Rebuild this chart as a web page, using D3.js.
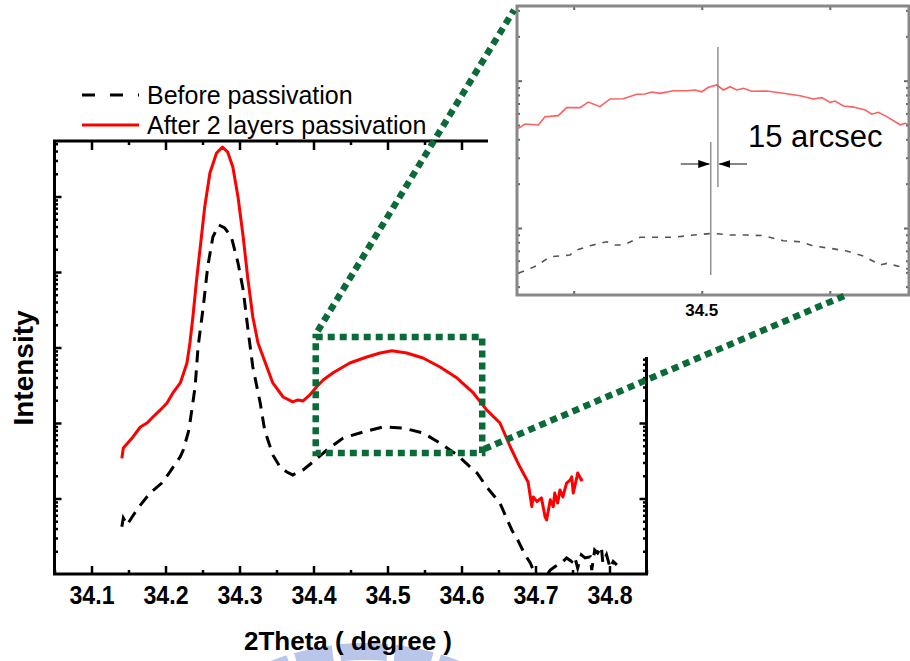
<!DOCTYPE html>
<html><head><meta charset="utf-8">
<script src="https://cdn.jsdelivr.net/npm/d3@7"></script>
<style>body{margin:0;background:#fff}svg{display:block;font-family:"Liberation Sans",Arial,Helvetica,sans-serif}</style>
</head><body>
<svg id="c" width="910" height="661"></svg>
<script>
// ---------- data ----------
const thetaAfter = [34.141,34.143,34.149,34.156,34.166,34.175,34.183,34.193,34.202,34.210,34.220,34.229,34.233,34.237,34.242,34.247,34.253,34.260,34.269,34.277,34.284,34.291,34.298,34.305,34.311,34.318,34.325,34.337,34.345,34.359,34.372,34.379,34.386,34.395,34.404,34.413,34.426,34.449,34.472,34.490,34.506,34.526,34.548,34.571,34.594,34.616,34.634,34.652,34.666,34.679,34.690,34.695,34.697,34.702,34.708,34.713,34.715,34.720,34.724,34.726,34.730,34.733,34.737,34.742,34.747,34.749,34.751,34.756,34.757,34.762,34.764];
const intensityAfter = [34,46.7,54.3,65.3,88.5,100,120,149,184,250,339,623,1148,2535,7834,21430,72600,204700,376700,452600,388300,246000,98500,29100,8590,2535,1148,552,339,221,190,202,196,235,300,371,459,623,748,846,907,846,726,552,394,250,149,100,48.1,26.1,16.5,7.8,10.5,9.1,10.2,5.7,5.2,9.6,7.8,11.8,8.7,13.0,10.5,16.0,17.6,19.4,11.8,19.4,21.8,17.6,18.1];

const thetaBefore = [34.141,34.143,34.148,34.154,34.163,34.179,34.195,34.206,34.220,34.224,34.231,34.233,34.240,34.244,34.251,34.257,34.264,34.272,34.280,34.289,34.298,34.305,34.311,34.318,34.328,34.334,34.345,34.355,34.364,34.372,34.386,34.399,34.418,34.440,34.467,34.494,34.521,34.548,34.571,34.594,34.612,34.621,34.634,34.652,34.663,34.668,34.676,34.686,34.693,34.697,34.702,34.706,34.713,34.720,34.726,34.735,34.742,34.749,34.753,34.757,34.762,34.767,34.774,34.776,34.780,34.784,34.789,34.791,34.796,34.801,34.805,34.810];
const intensityBefore = [4.23,5.52,4.46,5.52,7.48,11.8,16.0,22.6,35.8,43.9,76.7,100,300,1016,3437,11650,29100,41950,38250,29100,13160,5780,1870,552,184,80.8,37.7,26.1,22.4,20.5,23.9,30.4,43.9,63.3,76.0,88.5,85.9,73.7,54.3,37.7,26.1,21.8,14.2,8.7,4.93,3.83,2.82,1.79,1.40,1.13,0.94,0.78,0.89,1.13,1.25,1.40,1.63,1.46,1.69,1.20,1.79,1.63,1.69,1.13,2.08,1.90,2.30,1.40,1.79,1.20,1.46,1.32];

const xTicks = [34.1,34.2,34.3,34.4,34.5,34.6,34.7,34.8];
const xMinorTicks = [34.05,34.15,34.25,34.35,34.45,34.55,34.65,34.75,34.85];
const yMajorTicks = [10,100,1000,10000,100000];
const legendLabels = ["Before passivation","After 2 layers passivation"];
const xTitle = "2Theta ( degree )";
const yTitle = "Intensity";

// inset (zoomed view of the broad hump)
const insetThetaAfter = [34.3926,34.3965,34.4043,34.4082,34.4160,34.4209,34.4287,34.4336,34.4404,34.4463,34.4541,34.4619,34.4668,34.4707,34.4756,34.4834,34.4912,34.4961,34.5000,34.5039,34.5088,34.5127,34.5166,34.5205,34.5244,34.5293,34.5381,34.5478,34.5576,34.5654,34.5703,34.5752,34.5781,34.5830,34.5888,34.5957,34.5996,34.6035,34.6084,34.6162,34.6191,34.6216];
const insetIntensityAfter = [475,508,500,570,579,656,656,716,666,752,755,809,813,838,821,855,855,865,841,902,935,865,911,865,888,847,851,821,791,752,767,713,728,673,662,632,592,610,570,502,514,500];
const insetThetaBefore = [34.3926,34.3975,34.4033,34.4111,34.4228,34.4268,34.4346,34.4443,34.4492,34.4541,34.4639,34.4736,34.4834,34.4951,34.5068,34.5166,34.5264,34.5361,34.5478,34.5576,34.5654,34.5752,34.5849,34.5947,34.6045,34.6084,34.6162,34.6210];
const insetIntensityBefore = [49.3,51.9,55.5,63.8,65.6,70.9,75.9,80.7,76.7,76.7,86.5,86.5,86.5,89.6,92.0,89.6,89.6,88.8,82.0,80.7,75.5,72.8,69.8,64.6,56.1,57.5,54.6,52.5];
const insetTicks = [34.425,34.5,34.575];
const insetTickLabel = [34.5];
const insetYMajor = [100,1000];
const peakBefore = 34.5053, peakAfter = 34.5095;
const annotationText = "15 arcsec";
const zoomTheta = [34.403,34.628];
const zoomIntensity = [40,1380];
const connectorInsetTheta = 34.586;

// ---------- drawing ----------
const svg = d3.select("#c");
const FONT = '"Liberation Sans",Arial,Helvetica,sans-serif';
const L = 54.5, R = 646.5, T = 141, B = 574;
const x = d3.scaleLinear().domain([34.05,34.85]).range([L,R]);
const y = d3.scaleLog().domain([1, Math.pow(10,5.735)]).range([B,T]);

function logMinor(dom){
  const out=[];
  for(let d=1; d<=dom[1]; d*=10){
    for(let k=2;k<=9;k++){const v=k*d; if(v>=dom[0]&&v<=dom[1]) out.push(v);}
  }
  return out;
}
const yMinor = logMinor(y.domain());

const defs = svg.append("defs");
defs.append("clipPath").attr("id","plotClip").append("rect")
  .attr("x",L).attr("y",T).attr("width",R-L).attr("height",B-T);

// watermark (partial light blue logo at bottom)
const wm = svg.append("g").attr("transform","translate(365,900)");
const segs = [[-0.44,-0.31],[-0.28,-0.13],[-0.10,0.09],[0.12,0.27],[0.30,0.44]];
segs.forEach(s=>{
  wm.append("path").attr("d", d3.arc()({innerRadius:240,outerRadius:257,startAngle:s[0],endAngle:s[1]}))
    .attr("fill","#b9c6ea");
});

// curves
const lineMain = d3.line().x(d=>x(d[0])).y(d=>y(d[1]));
const gCurves = svg.append("g").attr("clip-path","url(#plotClip)");
gCurves.append("path").datum(d3.zip(thetaBefore,intensityBefore))
  .attr("d",lineMain).attr("fill","none").attr("stroke","#000").attr("stroke-width",3)
  .attr("stroke-dasharray","12,8");
gCurves.append("path").datum(d3.zip(thetaAfter,intensityAfter))
  .attr("d",lineMain).attr("fill","none").attr("stroke","#ff0000").attr("stroke-width",3)
  .attr("stroke-linejoin","round");

// axes ticks
function styleAxis(g){ g.select(".domain").remove(); g.selectAll("line").attr("stroke","#000").attr("stroke-width",2.5); }
svg.append("g").attr("transform",`translate(0,${B})`)
  .call(d3.axisBottom(x).tickValues(xMinorTicks).tickSize(-4).tickFormat("")).call(styleAxis);
const gx = svg.append("g").attr("transform",`translate(0,${B})`)
  .call(d3.axisBottom(x).tickValues(xTicks).tickSize(-8).tickPadding(12).tickFormat(d3.format(".1f"))).call(styleAxis);
gx.selectAll("text").attr("font-family",FONT).attr("font-size",26).attr("font-weight","bold").attr("fill","#000")
  .attr("textLength",45).attr("lengthAdjust","spacingAndGlyphs").attr("dy","0.71em");
svg.append("g").attr("transform",`translate(0,${T})`)
  .call(d3.axisTop(x).tickValues(xMinorTicks).tickSize(-4).tickFormat("")).call(styleAxis);
svg.append("g").attr("transform",`translate(0,${T})`)
  .call(d3.axisTop(x).tickValues(xTicks).tickSize(-9).tickFormat("")).call(styleAxis);
[[d3.axisLeft,L],[d3.axisRight,R]].forEach(([ax,pos])=>{
  svg.append("g").attr("transform",`translate(${pos},0)`)
    .call(ax(y).tickValues(yMinor).tickSize(-3.5).tickFormat("")).call(styleAxis);
  svg.append("g").attr("transform",`translate(${pos},0)`)
    .call(ax(y).tickValues(yMajorTicks).tickSize(-7).tickFormat("")).call(styleAxis);
});
// frame
svg.append("rect").attr("x",L).attr("y",T).attr("width",R-L).attr("height",B-T)
  .attr("fill","none").attr("stroke","#000").attr("stroke-width",3);

// titles
svg.append("text").attr("x",348).attr("y",650).attr("text-anchor","middle")
  .attr("font-family",FONT).attr("font-size",26).attr("font-weight","bold").attr("fill","#000")
  .style("white-space","pre").text(xTitle);
svg.append("text").attr("transform","translate(33,368) rotate(-90)").attr("text-anchor","middle")
  .attr("font-family",FONT).attr("font-size",28).attr("font-weight","bold").attr("fill","#000").text(yTitle);

// legend
const lg = svg.append("g");
lg.append("line").attr("x1",82).attr("x2",139).attr("y1",95).attr("y2",95)
  .attr("stroke","#000").attr("stroke-width",3.2).attr("stroke-dasharray","13,15");
lg.append("line").attr("x1",82).attr("x2",139).attr("y1",125).attr("y2",125)
  .attr("stroke","#ff0000").attr("stroke-width",3.2);
lg.selectAll("text.lab").data(legendLabels).enter().append("text")
  .attr("x",147).attr("y",(d,i)=>103.5+i*30)
  .attr("font-family",FONT).attr("font-size",25).attr("fill","#000").text(d=>d);

// inset background (covers the top-right of the frame)
svg.append("rect").attr("x",488).attr("y",0).attr("width",422).attr("height",357).attr("fill","#fff");

// inset
const IL = 517, IR = 909, IT = 6, IB = 295;
const ix = d3.scaleLinear().domain([34.3918,34.6214]).range([IL,IR]);
const iy = d3.scaleLog().domain([35.1,3214]).range([IB,IT]);
defs.append("clipPath").attr("id","insetClip").append("rect")
  .attr("x",IL).attr("y",IT).attr("width",IR-IL).attr("height",IB-IT);
const lineInset = d3.line().x(d=>ix(d[0])).y(d=>iy(d[1]));
const gi = svg.append("g");
const gic = gi.append("g").attr("clip-path","url(#insetClip)");
gic.append("path").datum(d3.zip(insetThetaAfter,insetIntensityAfter)).attr("d",lineInset)
  .attr("fill","none").attr("stroke","#ff5f5f").attr("stroke-width",1.6);
gic.append("path").datum(d3.zip(insetThetaBefore,insetIntensityBefore)).attr("d",lineInset)
  .attr("fill","none").attr("stroke","#555").attr("stroke-width",1.6).attr("stroke-dasharray","6,7");

function styleInsetAxis(g){ g.select(".domain").remove(); g.selectAll("line").attr("stroke","#666").attr("stroke-width",2); }
const iyMinor = logMinor(iy.domain());
[[d3.axisLeft,IL],[d3.axisRight,IR]].forEach(([ax,pos])=>{
  gi.append("g").attr("transform",`translate(${pos},0)`)
    .call(ax(iy).tickValues(iyMinor).tickSize(-3).tickFormat("")).call(styleInsetAxis);
  gi.append("g").attr("transform",`translate(${pos},0)`)
    .call(ax(iy).tickValues(insetYMajor).tickSize(-5).tickFormat("")).call(styleInsetAxis);
});
gi.append("g").attr("transform",`translate(0,${IB})`)
  .call(d3.axisBottom(ix).tickValues(insetTicks).tickSize(-4).tickFormat("")).call(styleInsetAxis);
gi.append("g").attr("transform",`translate(0,${IT})`)
  .call(d3.axisTop(ix).tickValues(insetTicks).tickSize(-4).tickFormat("")).call(styleInsetAxis);
gi.append("rect").attr("x",IL).attr("y",IT).attr("width",IR-IL).attr("height",IB-IT)
  .attr("fill","none").attr("stroke","#888").attr("stroke-width",3);
gi.selectAll("text.il").data(insetTickLabel).enter().append("text")
  .attr("x",d=>ix(d)).attr("y",316).attr("text-anchor","middle")
  .attr("font-family",FONT).attr("font-size",17).attr("font-weight","bold").attr("fill","#000")
  .text(d=>d3.format(".1f")(d));

// peak markers + arrows
gi.append("line").attr("x1",ix(peakAfter)).attr("x2",ix(peakAfter)).attr("y1",47).attr("y2",187)
  .attr("stroke","#777").attr("stroke-width",1.2);
gi.append("line").attr("x1",ix(peakBefore)).attr("x2",ix(peakBefore)).attr("y1",142).attr("y2",275)
  .attr("stroke","#777").attr("stroke-width",1.2);
defs.append("marker").attr("id","ah").attr("markerUnits","userSpaceOnUse")
  .attr("markerWidth",12).attr("markerHeight",8).attr("refX",11).attr("refY",4).attr("orient","auto")
  .append("path").attr("d","M0,0 L12,4 L0,8 Z").attr("fill","#000");
const ay = 164;
gi.append("line").attr("x1",ix(peakBefore)-30).attr("x2",ix(peakBefore)-1.5).attr("y1",ay).attr("y2",ay)
  .attr("stroke","#444").attr("stroke-width",1.3).attr("marker-end","url(#ah)");
gi.append("line").attr("x1",ix(peakAfter)+29).attr("x2",ix(peakAfter)+1.5).attr("y1",ay).attr("y2",ay)
  .attr("stroke","#444").attr("stroke-width",1.3).attr("marker-end","url(#ah)");
gi.append("text").attr("x",748).attr("y",147).attr("font-family",FONT).attr("font-size",31)
  .attr("fill","#000").text(annotationText);

// green zoom box and connectors
const green = "#0b6b38";
const bx0 = x(zoomTheta[0]), bx1 = x(zoomTheta[1]), by0 = y(zoomIntensity[1]), by1 = y(zoomIntensity[0]);
const gg = svg.append("g").attr("fill","none").attr("stroke",green).attr("stroke-width",6.5).attr("stroke-dasharray","7,5");
gg.append("rect").attr("x",bx0).attr("y",by0).attr("width",bx1-bx0).attr("height",by1-by0);
gg.append("line").attr("x1",bx0+2).attr("y1",by0-6).attr("x2",IL-3).attr("y2",IT+4);
gg.append("line").attr("x1",bx1+2).attr("y1",by1-4).attr("x2",ix(connectorInsetTheta)).attr("y2",IB-1);
</script>
</body></html>
